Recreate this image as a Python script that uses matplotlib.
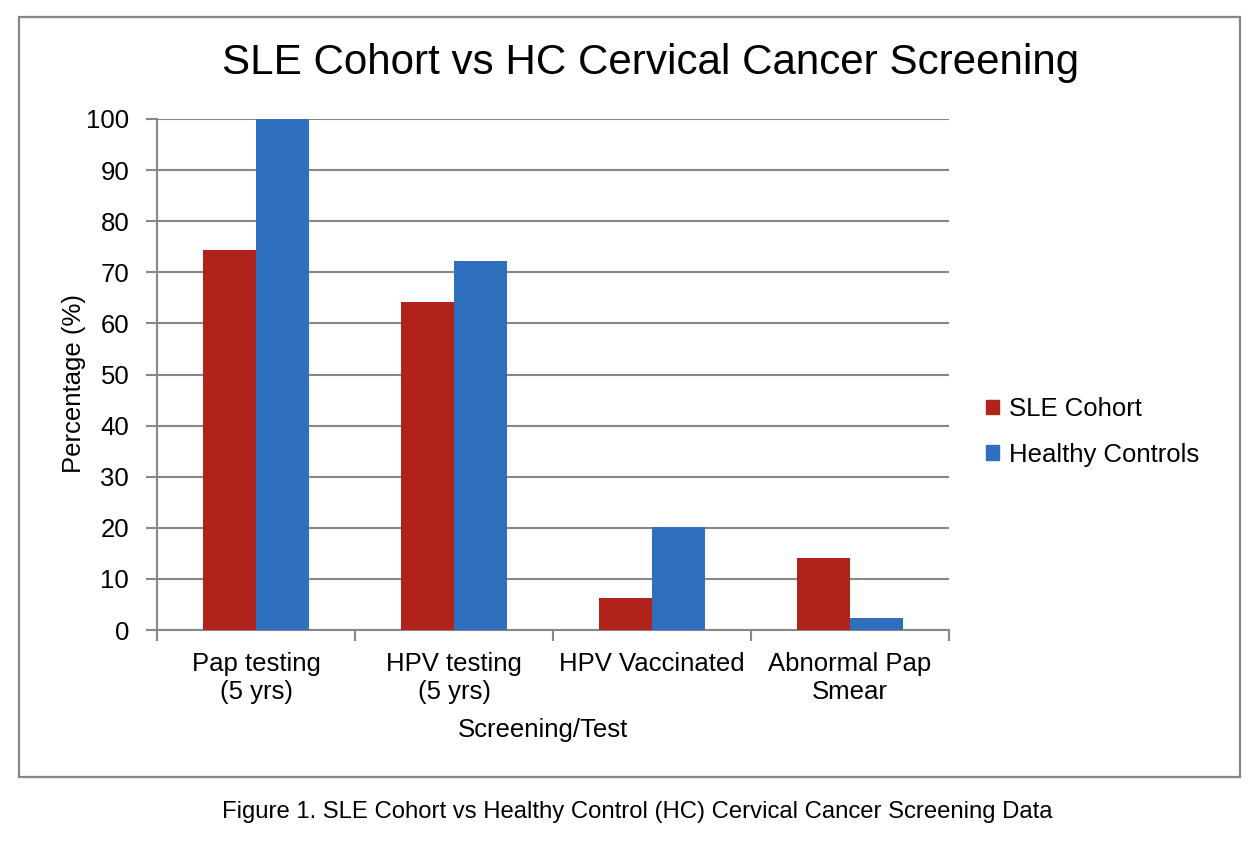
import matplotlib
matplotlib.use("Agg")
import matplotlib.pyplot as plt
from matplotlib.patches import Rectangle, Patch
import numpy as np

plt.rcParams['font.family'] = ['Liberation Sans', 'DejaVu Sans']

categories = ["Pap testing\n(5 yrs)", "HPV testing\n(5 yrs)", "HPV Vaccinated", "Abnormal Pap\nSmear"]
sle_values = [74.3, 64.2, 6.3, 14.1]
hc_values = [100.0, 72.3, 20.2, 2.4]
series_names = ["SLE Cohort", "Healthy Controls"]
yticks = list(range(0, 101, 10))

RED = "#AF231B"
BLUE = "#2E70BD"
GRID = "#878787"
FS = 18.5

W, H = 1258, 846
fig = plt.figure(figsize=(W / 100, H / 100), dpi=100)

# outer frame
fig.patches.append(Rectangle((19 / W, 1 - 777 / H), (1240 - 19) / W, (777 - 17) / H,
                             transform=fig.transFigure, fill=False, edgecolor=GRID, linewidth=1.6))

ax = fig.add_axes([157 / W, 1 - 630 / H, (949 - 157) / W, (630 - 119) / H])
x = np.arange(len(categories))
bw = 0.27
ax.bar(x - bw / 2, sle_values, bw, color=RED, label=series_names[0], zorder=3)
ax.bar(x + bw / 2, hc_values, bw, color=BLUE, label=series_names[1], zorder=3)

ax.set_xlim(-0.5, len(categories) - 0.5)
ax.set_ylim(0, 100)
ax.set_yticks(yticks)
ax.set_yticklabels([str(v) for v in yticks], fontsize=FS)
ax.set_xticks(x)
ax.set_xticklabels(categories, fontsize=FS, linespacing=1.2)
ax.tick_params(axis='x', length=0, pad=16)
ax.set_xticks(np.arange(-0.5, len(categories), 1.0), minor=True)
ax.tick_params(axis='x', which='minor', length=8, width=1.5, color=GRID)
ax.tick_params(axis='y', length=8, width=1.5, color=GRID, pad=12)

for s in ['top', 'right']:
    ax.spines[s].set_visible(False)
for s in ['left', 'bottom']:
    ax.spines[s].set_color(GRID)
    ax.spines[s].set_linewidth(1.5)

ax.yaxis.grid(True, color=GRID, linewidth=1.5, zorder=0)
ax.set_axisbelow(True)

ax.set_xlabel("Screening/Test", fontsize=FS, labelpad=10)
ax.set_ylabel("Percentage (%)", fontsize=FS, labelpad=0)
ax.xaxis.label.set_x((542.5 - 157) / 792)
ax.yaxis.label.set_y((630 - 383) / 511)

fig.text(651 / W, 1 - 63 / H, "SLE Cohort vs HC Cervical Cancer Screening", fontsize=30.3,
         ha='center', va='center')

handles = [Patch(color=RED), Patch(color=BLUE)]
fig.legend(handles, series_names, loc='center left', bbox_to_anchor=(963 / W, 1 - 432 / H),
           frameon=False, fontsize=FS, handlelength=0.5, handleheight=0.5, handletextpad=0.4,
           labelspacing=0.85)

fig.text(637 / W, 1 - 812 / H, "Figure 1. SLE Cohort vs Healthy Control (HC) Cervical Cancer Screening Data",
         fontsize=17.2, ha='center', va='center')

fig.savefig("out.png", dpi=100, facecolor='white')
